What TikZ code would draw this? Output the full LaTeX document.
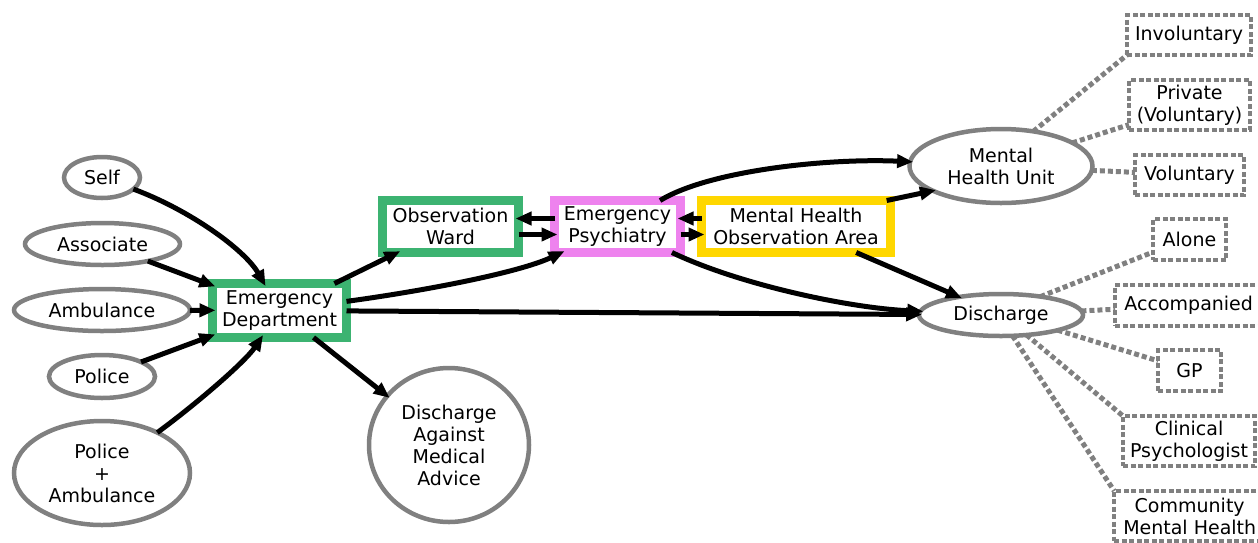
\documentclass[tikz,border=0pt]{standalone}
\usepackage{fontspec}
\setmainfont{DejaVu Sans}
\usetikzlibrary{arrows.meta}
\usetikzlibrary{shapes.geometric}

\definecolor{edgreen}{RGB}{60,179,113}
\definecolor{psyviolet}{RGB}{238,130,238}
\definecolor{obsgold}{RGB}{255,215,0}
\definecolor{linkgray}{RGB}{128,128,128}

\begin{document}
\begin{tikzpicture}[x=1pt, y=-1pt,
  every node/.style={font=\fontsize{19}{22}\selectfont, align=center, outer sep=0pt, inner sep=1pt},
  srcnode/.style={ellipse, draw=linkgray, line width=4.5pt, inner sep=0pt},
  unitbox/.style={rectangle, draw=#1, line width=9pt, fill=white},
  optbox/.style={rectangle, draw=linkgray, line width=4.5pt, dash pattern=on 5pt off 2.5pt},
  flow/.style={-{Triangle[length=16pt,width=13pt]}, line width=5pt, shorten >=-3pt},
  optlink/.style={draw=linkgray, line width=5pt, dash pattern=on 5pt off 3pt}
]
\useasboundingbox (0,0) rectangle (1258,542);

% Sources
\node[srcnode, minimum width=76pt, minimum height=41pt] (self) at (102,177.5) {Self};
\node[srcnode, minimum width=155pt, minimum height=42pt] (assoc) at (102.5,244) {Associate};
\node[srcnode, minimum width=176pt, minimum height=42pt] (amb) at (102,310) {Ambulance};
\node[srcnode, minimum width=106pt, minimum height=43pt] (pol) at (102,376.5) {Police};
\node[srcnode, minimum width=176pt, minimum height=104pt] (polamb) at (102,473) {Police\\+\\Ambulance};

% Units
\node[unitbox=edgreen, minimum width=134pt, minimum height=54pt] (ed) at (279.5,310.5) {Emergency\\Department};
\node[unitbox=edgreen, minimum width=136pt, minimum height=52pt] (ow) at (450.5,226.5) {Observation\\Ward};
\node[unitbox=psyviolet, minimum width=126pt, minimum height=52pt] (ep) at (617.5,226.5) {Emergency\\Psychiatry};
\node[unitbox=obsgold, minimum width=189pt, minimum height=52pt] (mhoa) at (796,226.5) {Mental Health\\Observation Area};

% Outcomes
\node[srcnode, minimum width=160pt, minimum height=154pt] (dama) at (449,445) {Discharge\\Against\\Medical\\Advice};
\node[srcnode, minimum width=183pt, minimum height=74pt] (mhu) at (1001,166) {Mental\\Health Unit};
\node[srcnode, minimum width=164pt, minimum height=42pt] (dis) at (1001,315) {Discharge};

% Options
\node[optbox, minimum width=124pt, minimum height=40pt] (inv) at (1189,35) {Involuntary};
\node[optbox, minimum width=121pt, minimum height=50pt] (priv) at (1189.5,105) {Private\\(Voluntary)};
\node[optbox, minimum width=109pt, minimum height=40pt] (vol) at (1189.5,175) {Voluntary};
\node[optbox, minimum width=73pt, minimum height=41pt] (alone) at (1189.5,239.5) {Alone};
\node[optbox, minimum width=147pt, minimum height=41pt] (acc) at (1188.7,305.5) {Accompanied};
\node[optbox, minimum width=63pt, minimum height=41pt] (gp) at (1189.5,370.5) {GP};
\node[optbox, minimum width=132pt, minimum height=50pt] (clin) at (1189,441) {Clinical\\Psychologist};
\node[optbox, minimum width=151pt, minimum height=50pt] (cmh) at (1189.7,516) {Community\\Mental Health};

% Arrivals
\draw[flow] (self) .. controls (190,210) and (245,250) .. (ed);
\draw[flow] (assoc) -- (ed);
\draw[flow] (amb) -- (ed);
\draw[flow] (pol) -- (ed);
\draw[flow] (polamb) .. controls (195,405) and (245,362) .. (ed);

% Pathways
\draw[flow] (ed) -- (ow);
\draw[flow] (ed) .. controls (430,290) and (520,272) .. (ep);
\draw[flow] (ed) -- (dis);
\draw[flow] (ed) -- (dama);
\draw[flow] ([yshift=8pt]ep.west) -- ([yshift=8pt]ow.east);
\draw[flow] ([yshift=-8pt]ow.east) -- ([yshift=-8pt]ep.west);
\draw[flow] ([yshift=8pt]mhoa.west) -- ([yshift=8pt]ep.east);
\draw[flow] ([yshift=-8pt]ep.east) -- ([yshift=-8pt]mhoa.west);
\draw[flow] (ep) .. controls (710,170) and (830,158) .. (mhu);
\draw[flow] (ep) .. controls (740,285) and (850,308) .. (dis);
\draw[flow] (mhoa.16) -- (mhu.200);
\draw[flow] (mhoa) -- (dis);

% Follow-up
\draw[optlink] (mhu.47) -- (inv.south west);
\draw[optlink] (mhu.18) -- (priv.198);
\draw[optlink] (mhu) -- (vol);
\draw[optlink] (dis.25) -- (alone.199);
\draw[optlink] (dis) -- (acc);
\draw[optlink] (dis.-15) -- (gp.163);
\draw[optlink] (dis.-38) -- (clin.north west);
\draw[optlink] (dis.-61) -- (cmh.north west);

\end{tikzpicture}
\end{document}
